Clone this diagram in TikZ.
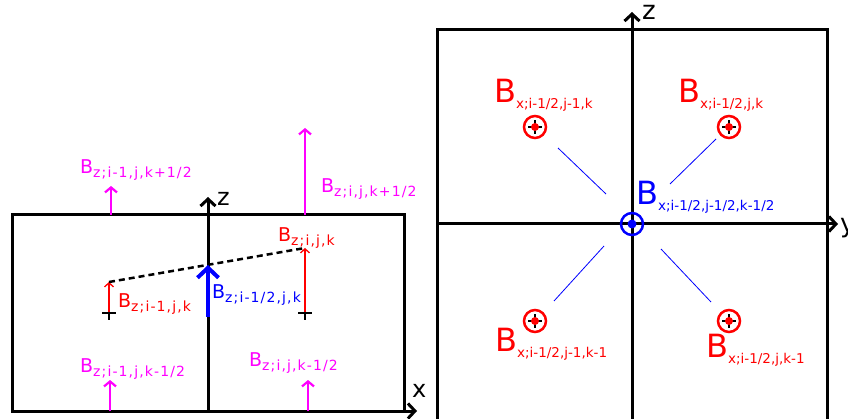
\documentclass[tikz,border=0pt]{standalone}
\usepackage{fontspec}
\setmainfont{DejaVu Sans}
\usetikzlibrary{arrows.meta}
\definecolor{mag}{HTML}{FF00FF}
\definecolor{rd}{HTML}{FF0000}
\definecolor{bl}{HTML}{0000FF}
\newcommand{\Bleft}[1]{B\raisebox{-4pt}{\fontsize{14}{14}\selectfont\addfontfeature{LetterSpace=8}#1}}
\newcommand{\Bright}[1]{B\raisebox{-6pt}{\fontsize{13.5}{13.5}\selectfont #1}}
\tikzset{
  frame/.style={line width=3pt},
  axis/.style={line width=3pt,-{Straight Barb[length=7pt,width=15pt]}},
  magarrow/.style={mag,line width=2.2pt,-{Straight Barb[length=5pt,width=12pt]}},
  redarrow/.style={rd,line width=1.3pt,-{Straight Barb[length=4pt,width=9pt]}},
  bluearrow/.style={bl,line width=4pt,-{Straight Barb[length=10pt,width=21pt]}},
  thinblue/.style={bl,line width=0.8pt},
  crossmark/.style={black,line width=1.2pt},
  llab/.style={inner sep=0pt,anchor=base west,font=\fontsize{19}{19}\selectfont},
  rlab/.style={inner sep=0pt,anchor=base west,font=\fontsize{32}{32}\selectfont},
  axlab/.style={inner sep=0pt,anchor=base west,font=\fontsize{24}{24}\selectfont},
}
\newcommand{\fluxmark}[1]{%
  \draw[rd,line width=2.5pt] (#1) circle (11pt);
  \draw[crossmark] ([xshift=-7pt]#1) -- ([xshift=7pt]#1);
  \draw[crossmark] ([yshift=-7pt]#1) -- ([yshift=7pt]#1);
  \fill[rd] (#1) circle (4pt);
}
\begin{document}
\begin{tikzpicture}[x=1pt,y=-1pt]
\useasboundingbox (0,0) rectangle (848,419);
% ---------------- left panel ----------------
\coordinate (LTL) at (12,215);
\coordinate (LBR) at (404,411);
\draw[frame] (LTL) rectangle (LBR);
\coordinate (xs) at (12,411);
\coordinate (xe) at (417,411);
\draw[axis] (xs) -- (xe);
\coordinate (zs) at (208,411);
\coordinate (ze) at (208,197);
\draw[axis] (zs) -- (ze);
\node[axlab] (zl) at (217,206) {z};
\node[axlab] (xl) at (412,397) {x};
% magenta arrows
\coordinate (m1a) at (111,215); \coordinate (m1b) at (111,186);
\coordinate (m2a) at (305,215); \coordinate (m2b) at (305,128);
\coordinate (m3a) at (110,411); \coordinate (m3b) at (110,380);
\coordinate (m4a) at (308,411); \coordinate (m4b) at (308,380);
\draw[magarrow] (m1a) -- (m1b);
\draw[magarrow] (m2a) -- (m2b);
\draw[magarrow] (m3a) -- (m3b);
\draw[magarrow] (m4a) -- (m4b);
% red arrows and crosses
\coordinate (p1) at (109,313); \coordinate (r1) at (109,282);
\coordinate (p2) at (305,313); \coordinate (r2) at (305,248);
\draw[redarrow] (p1) -- (r1);
\draw[redarrow] (p2) -- (r2);
\draw[crossmark] ([xshift=-7pt]p1) -- ([xshift=7pt]p1);
\draw[crossmark] (p1) -- ([yshift=-7pt]p1);
\draw[crossmark] ([xshift=-7pt]p2) -- ([xshift=7pt]p2);
\draw[crossmark] (p2) -- ([yshift=-7pt]p2);
% dashed interpolation line
\draw[black,line width=2.5pt,dash pattern=on 6pt off 4pt] (r1) -- (r2);
% blue arrow
\coordinate (b1) at (208,317); \coordinate (b2) at (208,265);
\draw[bluearrow] (b1) -- (b2);
% labels
\node[llab,text=mag] (lm1) at (80,174) {\Bleft{z;i-1,j,k+1/2}};
\node[llab,text=mag] (lm2) at (321,193) {\Bleft{z;i,j,k+1/2}};
\node[llab,text=rd] (lr2) at (278,242) {\Bleft{z;i,j,k}};
\node[llab,text=rd] (lr1) at (118,308) {\Bleft{z;i-1,j,k}};
\node[llab,text=bl] (lb) at (212,299) {\Bleft{z;i-1/2,j,k}};
\node[llab,text=mag] (lm3) at (80,372) {\Bleft{z;i-1,j,k-1/2}};
\node[llab,text=mag] (lm4) at (249,366) {\Bleft{z;i,j,k-1/2}};
% ---------------- right panel ----------------
\coordinate (RTL) at (437,30);
\coordinate (RBR) at (827,440);
\draw[frame] (RTL) rectangle (RBR);
\coordinate (rzs) at (632,440); \coordinate (rze) at (632,12);
\coordinate (rys) at (437,224); \coordinate (rye) at (838,224);
\draw[axis] (rzs) -- (rze);
\draw[axis] (rys) -- (rye);
\node[axlab,font=\fontsize{26}{26}\selectfont] (rzl) at (642,20) {z};
\node[axlab,font=\fontsize{26}{26}\selectfont] (ryl) at (840,233) {y};
% thin blue lines
\coordinate (t1a) at (558,148); \coordinate (t1b) at (606,194);
\coordinate (t2a) at (716,139); \coordinate (t2b) at (670,184);
\coordinate (t3a) at (604,246); \coordinate (t3b) at (554,301);
\coordinate (t4a) at (661,249); \coordinate (t4b) at (711,302);
\draw[thinblue] (t1a) -- (t1b);
\draw[thinblue] (t2a) -- (t2b);
\draw[thinblue] (t3a) -- (t3b);
\draw[thinblue] (t4a) -- (t4b);
% flux markers
\coordinate (c1) at (535,127);
\coordinate (c2) at (729,127);
\coordinate (c3) at (535,321);
\coordinate (c4) at (729,321);
\fluxmark{c1}
\fluxmark{c2}
\fluxmark{c3}
\fluxmark{c4}
\coordinate (c0) at (632,224);
\draw[bl,line width=2.5pt] (c0) circle (11pt);
\fill[bl] (c0) circle (4.5pt);
% labels
\node[rlab,text=rd] (rl1) at (494,103) {\Bright{x;i-1/2,j-1,k}};
\node[rlab,text=rd] (rl2) at (678,103) {\Bright{x;i-1/2,j,k}};
\node[rlab,text=bl] (rl0) at (636,205) {\Bright{x;i-1/2,j-1/2,k-1/2}};
\node[rlab,text=rd] (rl3) at (495,351) {\Bright{x;i-1/2,j-1,k-1}};
\node[rlab,text=rd] (rl4) at (706,357) {\Bright{x;i-1/2,j,k-1}};
\end{tikzpicture}
\end{document}
